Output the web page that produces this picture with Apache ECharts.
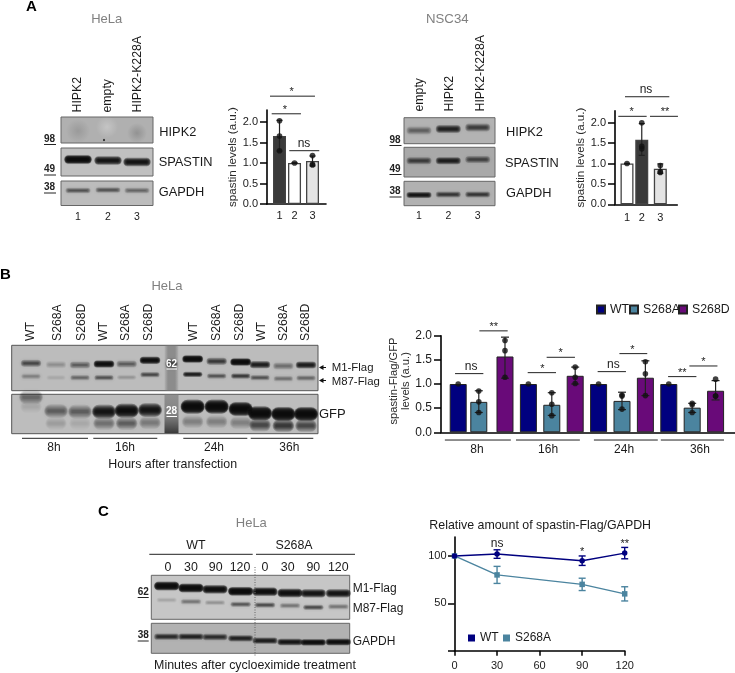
<!DOCTYPE html>
<html><head><meta charset="utf-8">
<style>html,body{margin:0;padding:0;background:#fff}#c{width:735px;height:673px}</style>
<script src="https://cdn.jsdelivr.net/npm/echarts@6/dist/echarts.min.js"></script>
</head><body><div id="c"></div>
<script>
// ---------- data ----------
const laneNumbers = ['1','2','3'];
const helaA_values = [1.66, 1.0, 1.05];
const helaA_low = [1.29, 1.0, 0.93];
const helaA_high = [2.04, 1.0, 1.17];
const helaA_dots = [[2.03,1.66,1.3],[1.0],[1.18,0.95,0.97]];
const nscA_values = [1.0, 1.58, 0.87];
const nscA_low = [1.0, 1.2, 0.76];
const nscA_high = [1.0, 1.98, 0.99];
const nscA_dots = [[1.0],[2.0,1.42,1.36],[0.95,0.8,0.78]];

const timepoints = ['8h','16h','24h','36h'];
const wt_values = [1,1,1,1];
const s268a_values = [0.63,0.57,0.65,0.51];
const s268d_values = [1.57,1.17,1.13,0.86];
const s268a_low = [0.41,0.35,0.47,0.41];
const s268a_high = [0.86,0.82,0.83,0.6];
const s268d_low = [1.12,1.0,0.76,0.67];
const s268d_high = [1.97,1.35,1.48,1.07];
const wt_dots = [[1],[1],[1],[1]];
const s268a_dots = [[0.855,0.63,0.41],[0.82,0.58,0.345],[0.77,0.75,0.48],[0.6,0.57,0.41]];
const s268d_dots = [[1.9,1.69,1.14],[1.35,1.14,1.01],[1.46,1.21,0.76],[1.1,0.75,0.75]];

const minutes = [0,30,90,120];
const wt_time = [100,102,95,103];
const wt_time_err = [0,4.5,5,6];
const s268a_time = [100,80,70,60];
const s268a_time_err = [0,9,6.5,7.5];

// blot band intensities (0..1)
const a1_spastin=[.98,.92,.92], a1_gapdh=[.55,.55,.45];
const a2_hipk=[.45,.8,.65], a2_spastin=[.65,.85,.6], a2_gapdh=[.9,.7,.7];
const b_m1=[.6,.22,.5,.95,.5,.95,1,.7,1,.85,.4,.85];
const b_m87=[.3,.1,.45,.55,.2,.6,.85,.55,.7,.55,.4,.45];
const b_gfp=[.45,.5,.5,.9,.95,.9,1,1,1,1,1,1];
const b_gfp2=[.1,.15,.1,.4,.5,.35,.3,.3,.3,.6,.7,.6];
const c_m1=[1,1,.95,1,.95,.95,.9,.9];
const c_m87=[.15,.4,.25,.55,.6,.4,.6,.4];
const c_gapdh=[.75,.8,.75,.8,.85,.9,.95,.95];

// ---------- layout ----------
const NAVY='#00007f', TEAL='#4b849f', PURPLE='#690a79', FF='"Liberation Sans",Arial,sans-serif';
const slotsA1=[1,1.91,3], slotsA2=[1,1.886,3];
const slotsB=[1,1.88,3,4,5,6,7,8,9,10,11,12];
const groupCentersB=[1.8,4.84,8.09,11.33];

const g=[];
function T(t,x,y,o={}){g.push({type:'text',x,y,rotation:o.rot||0,z:20,style:{text:t,fontSize:o.size||12,fontFamily:FF,fontWeight:o.weight||'normal',fill:o.color||'#1a1a1a',align:o.align||'left',verticalAlign:'middle'}});}
function L(x1,y1,x2,y2,c='#222',w=1,dash){g.push({type:'line',z:20,shape:{x1,y1,x2,y2},style:{stroke:c,lineWidth:w,lineDash:dash}});}
function R(x,y,w,h,fill,stroke){g.push({type:'rect',z:5,shape:{x,y,width:w,height:h},style:{fill,stroke:stroke||null,lineWidth:1}});}
const LAYERS=[[1.14,2.1],[1.1,1.75],[1.05,1.45],[1.0,1.15],[.95,.9],[.88,.65],[.8,.4]];
function band(x,y,w,h,a){const al=1-Math.pow(1-Math.min(a,.98),1/LAYERS.length);const c=`rgba(12,12,12,${al})`;
  LAYERS.forEach(l=>{const W=w*l[0],H=h*l[1];g.push({type:'rect',z:6,shape:{x:x-W/2,y:y-H/2,width:W,height:H,r:H/2},style:{fill:c,shadowBlur:1.5,shadowColor:c}});});}
function smear(x,y,rx,ry,a){g.push({type:'ellipse',z:6,shape:{cx:x,cy:y,rx,ry},style:{fill:{type:'radial',x:.5,y:.5,r:.5,colorStops:[{offset:0,color:`rgba(40,40,40,${a})`},{offset:1,color:'rgba(40,40,40,0)'}]}}});}
function lighten(x,y,rx,ry,a){g.push({type:'ellipse',z:6,shape:{cx:x,cy:y,rx,ry},style:{fill:{type:'radial',x:.5,y:.5,r:.5,colorStops:[{offset:0,color:`rgba(235,235,235,${a})`},{offset:1,color:'rgba(235,235,235,0)'}]}}});}
function row(xs,ys,vals,w,h){xs.forEach((x,i)=>band(x,ys[i],w,h,vals[i]));}
function MW(t,x,y,w,c='#222'){T(t,x,y,{size:10,weight:'bold',color:c});L(x,y+5.5,x+w,y+5.5,c,1);}
function up(t,x,bottom,size=12.3){T(t,x,bottom,{rot:Math.PI/2,size});}

// --- Panel A
T('A',26,6.5,{size:15,weight:'bold',color:'#000'});
T('HeLa',106.7,19,{size:13,color:'#808080',align:'center'});
T('NSC34',447.3,19,{size:13.2,color:'#808080',align:'center'});
[['HIPK2',78],['empty',108],['HIPK2-K228A',138]].forEach(a=>up(a[0],a[1],112.5));
[['empty',420],['HIPK2',449.3],['HIPK2-K228A',481]].forEach(a=>up(a[0],a[1],111.5));
// left blots
const a1x=[78,108,137];
R(61,117,92,26,'#b0b0b0','#666');R(61,148,92,28,'#c0c0c0','#666');R(61,181,92,24.5,'#bcbcbc','#666');
smear(78,131,18,12,.16);smear(137,133,18,10,.22);lighten(107,127,14,11,.35);
band(104,140,1.6,1.2,.9);
row(a1x,[159.5,160.5,162],a1_spastin,24,4);
row(a1x,[190.5,190,190.5],a1_gapdh,22,2.6);
T('HIPK2',159.3,132,{size:12.8});T('SPASTIN',158.7,162,{size:12.8});T('GAPDH',158.7,192.7,{size:12.8});
a1x.forEach((x,i)=>T(laneNumbers[i],x,217,{size:10.5,align:'center'}));
MW('98',44,139,12);MW('49',44,169.5,12);MW('38',44,187.5,12);
// right blots
const a2x=[419,448.3,477.7];
R(404,117.7,91,26,'#b3b3b3','#666');R(404,147.3,91,29.7,'#a9a9a9','#666');R(404,181.3,91,24.4,'#b1b1b1','#666');
row(a2x,[130.5,129,127.5],a2_hipk,22,3.8);
row(a2x,[160.7,160.7,159.5],a2_spastin,22,3.4);
row(a2x,[195,194.5,194.5],a2_gapdh,22,2.8);
T('HIPK2',506,132,{size:12.8});T('SPASTIN',505,163,{size:12.8});T('GAPDH',506,193,{size:12.8});
a2x.forEach((x,i)=>T(laneNumbers[i],x,216,{size:10.5,align:'center'}));
MW('98',389.5,140,12);MW('49',389.5,169,12);MW('38',389.5,191.5,12);

// --- Panel B
T('B',0,275,{size:15,weight:'bold',color:'#000'});
T('HeLa',167,286.7,{size:13,color:'#808080',align:'center'});
const bLabel=['WT','S268A','S268D','WT','S268A','S268D','WT','S268A','S268D','WT','S268A','S268D'];
[92,172,245,311,378,447,580,650,718,785,850,917].forEach((x,i)=>up(bLabel[i],x/3,341,12.2));
R(11.7,345.3,306.3,45.4,'#bcbcbc','#555');R(11.7,394.3,306.3,39.4,'#bdbdbd','#555');
// ladder strip
const stripFill=(top,bot)=>({type:'linear',x:0,y:0,x2:1,y2:0,colorStops:[{offset:0,color:'rgba(140,140,140,.2)'},{offset:.25,color:top},{offset:.75,color:bot},{offset:1,color:'rgba(140,140,140,.2)'}]});
g.push({type:'rect',z:5,shape:{x:164.5,y:345.8,width:14,height:44.4},style:{fill:stripFill('#8c8c8c','#8c8c8c')}});
g.push({type:'rect',z:5,shape:{x:164.5,y:394.8,width:14,height:38.4},style:{fill:{type:'linear',x:0,y:0,x2:0,y2:1,colorStops:[{offset:0,color:'#909090'},{offset:.55,color:'#808080'},{offset:.8,color:'#5a5a5a'},{offset:1,color:'#3a3a3a'}]}}});
band(171.5,364,11,5.5,.55);
const bx=[93,168,240,312,380,450,578,650,722,780,850,918].map(v=>v/3);
row(bx,[310,314,315,312,312,301,297,304,306,314,318,315].map(v=>v/3+260),b_m1,18,3.4);
row(bx,[349,353,353,353,352,344,343,348,348,353,356,354].map(v=>v/3+260),b_m87,17,2.5);
row(bx,[412,453,455,455,452,450,440,440,447,460,462,462].map(v=>v/3+260),b_gfp,21,6.5);
row(bx,[440,490,490,490,490,488,485,485,488,495,497,497].map(v=>v/3+260),b_gfp2,19,6);
T('62',171.5,364,{size:10,weight:'bold',color:'#fff',align:'center'});L(166.5,369,177,369,'#fff',1);
T('28',171.5,411.5,{size:10,weight:'bold',color:'#fff',align:'center'});L(166.5,416.5,177,416.5,'#fff',1);
T('M1-Flag',331.7,367.5,{size:11.4});T('M87-Flag',331.7,382,{size:11.4});T('GFP',319,414,{size:13});
[367.5,380.5].forEach(a=>{L(322,a,326,a,'#111',1);g.push({type:'polygon',z:20,shape:{points:[[319,a],[323.5,a-2.5],[323.5,a+2.5]]},style:{fill:'#111'}});});
[[22,88,54],[93.3,157.3,125],[183.3,247.3,214],[250.7,313.3,289.3]].forEach((a,i)=>{L(a[0],438.3,a[1],438.3,'#222',1);T(timepoints[i],a[2],447.5,{size:12,align:'center'});});
T('Hours after transfection',172.7,464.3,{size:12.4,align:'center'});

// --- Panel C
T('C',98,511.7,{size:15,weight:'bold',color:'#000'});
T('HeLa',251.3,523.3,{size:13,color:'#808080',align:'center'});
T('WT',196,546,{size:12.4,align:'center'});T('S268A',294,546,{size:12.4,align:'center'});
L(149.3,554.3,252.7,554.3,'#222',1);L(256,554.3,355,554.3,'#222',1);
const cx=[168,191,215.7,240,265,287.7,313.3,338.3];
[0,30,90,120,0,30,90,120].forEach((m,i)=>T(String(m),cx[i],567.7,{size:12.4,align:'center'}));
R(151.3,575.3,198.4,44,'#c6c6c6','#666');R(151.3,623.3,198.4,30,'#b2b2b2','#666');
const cbx=[230,303,375,452,525,600,670,745].map(v=>v/3+90);
row(cbx,[288,294,298,304,305,309,310,310].map(v=>v/3+490),c_m1,22,4);
row(cbx,[330,335,338,343,345,347,352,350].map(v=>v/3+490),c_m87,18,2.5);
row(cbx,[440,440,441,445,452,456,457,456].map(v=>v/3+490),c_gapdh,22,3);
L(255,567,255,657,'#666',1,[1,1.5]);
T('M1-Flag',352.7,588.7,{size:12});T('M87-Flag',352.7,609,{size:12});T('GAPDH',352.7,641.7,{size:12});
T('Minutes after cycloeximide treatment',255,666,{size:12.4,align:'center'});
MW('62',137.7,592,11);MW('38',137.7,635.5,11);
T('Relative amount of spastin-Flag/GAPDH',429.3,525.7,{size:12.4});

// ---------- chart helpers ----------
const axisLine={show:true,onZero:false,lineStyle:{color:'#000',width:1.6}};
function bracketSeries(gi,list){return {type:'custom',silent:true,xAxisIndex:gi,yAxisIndex:gi,z:8,clip:false,
  data:list.map(b=>[b[0],b[1],b[2]]),encode:{x:[0,1],y:2},
  renderItem(p,api){const b=list[p.dataIndex];const a=api.coord([b[0],b[2]]),c=api.coord([b[1],b[2]]);const ch=[];
    if(b[0]!==b[1])ch.push({type:'line',shape:{x1:a[0],y1:a[1],x2:c[0],y2:c[1]},style:{stroke:'#222',lineWidth:1}});
    if(b[3]){const q=api.coord([b[4],b[2]]);const star=b[3].includes('*');ch.push({type:'text',x:q[0],y:q[1]-(star?4:7),style:{text:b[3],fontSize:star?11:12,fontFamily:FF,fill:'#222',align:'center',verticalAlign:'middle'}});}
    return {type:'group',children:ch};}};}
function errSeries(gi,xs,lo,hi,color,cap,w){return {type:'custom',silent:true,xAxisIndex:gi,yAxisIndex:gi,z:6,clip:false,
  data:xs.map((x,i)=>[x,lo[i],hi[i]]),encode:{x:0,y:[1,2]},
  renderItem(p,api){const x=api.value(0);const a=api.coord([x,api.value(1)]),b=api.coord([x,api.value(2)]);const s={stroke:color,lineWidth:w||1.2};
    const l=(x1,y1,x2,y2)=>({type:'line',shape:{x1,y1,x2,y2},style:s});
    return {type:'group',children:[l(a[0],a[1],b[0],b[1]),l(a[0]-cap,a[1],a[0]+cap,a[1]),l(b[0]-cap,b[1],b[0]+cap,b[1])]};}};}
function dots(gi,xs,d){const data=[];d.forEach((v,i)=>v.forEach(y=>data.push([xs[i],y])));return {type:'scatter',silent:true,xAxisIndex:gi,yAxisIndex:gi,z:7,symbol:'circle',symbolSize:5.6,itemStyle:{color:'#111'},data};}
function xAx(gi,min,max,vals,fmt,margin,fs){return {type:'value',gridIndex:gi,min,max,splitLine:{show:false},axisLine,axisTick:{show:false},axisLabel:{customValues:vals,formatter:fmt,margin,fontSize:fs,fontFamily:FF,color:'#1a1a1a',hideOverlap:false,showMinLabel:true,showMaxLabel:true}};}
function yAx(gi,max,vals,fs,name,gap,nameFs,tickLen,pad){return {type:'value',gridIndex:gi,min:0,max,splitLine:{show:false},axisLine,
  axisTick:{show:true,length:tickLen,customValues:vals,lineStyle:{color:'#000',width:1.5}},
  axisLabel:{customValues:vals,formatter:v=>v.toFixed(1),margin:tickLen+2,fontSize:fs,fontFamily:FF,color:'#1a1a1a',showMinLabel:true,showMaxLabel:true},
  name,nameLocation:'middle',nameGap:gap,nameRotate:90,nameTextStyle:{fontSize:nameFs,fontFamily:FF,color:'#2a2a2a',lineHeight:12,padding:pad||0}};}
const barBase={type:'bar',barWidth:13,barGap:'-100%'};
function barItem(x,y,c){return {value:[x,y],itemStyle:{color:c,borderColor:'#444',borderWidth:1.3}};}

const aTicks=[0,.5,1,1.5,2];
const bTicks=[0,.5,1,1.5,2];
const A1sig=[[.424,3.15,2.63,'*',1.74],[.527,2.30,2.20,'*',1.33],[1.594,3.41,1.30,'ns',2.485]];
const A2sig=[[.88,3.54,2.637,'ns',2.14],[.477,2.18,2.157,'*',1.28],[2.38,4.06,2.157,'**',3.28]];
const Bsig=[[.865,2.075,1.215,'ns',1.55],[1.905,3.115,2.10,'**',2.52],[3.97,5.18,1.235,'*',4.6],[4.78,5.99,1.553,'*',5.38],
 [6.96,8.17,1.256,'ns',7.63],[7.89,9.08,1.629,'*',8.44],[9.97,11.18,1.153,'**',10.58],[10.88,12.08,1.373,'*',11.48]];
const Bgroups=[[.43,3.25,-.16],[3.47,6.2,-.16],[6.8,9.53,-.16],[9.66,12.36,-.16]];
const Csig=[[30,30,105.6,'ns',30],[90,90,99.7,'*',90],[120,120,108.6,'**',120]];

const bWT=slotsB.filter((_,i)=>i%3==0), bA=slotsB.filter((_,i)=>i%3==1), bD=slotsB.filter((_,i)=>i%3==2);
const A1fill=['#3a3a3a','#ffffff','#e4e4e4'], A2fill=['#ffffff','#3a3a3a','#e4e4e4'];

const option={animation:false,backgroundColor:'#fff',textStyle:{fontFamily:FF},
 graphic:{elements:g},
 grid:[
  {left:267,top:110.1,width:59,height:93.9},
  {left:615,top:110.9,width:62.3,height:93.4},
  {left:441,top:335.7,width:294,height:96.6},
  {left:454.5,top:537,width:170.2,height:113.7}
 ],
 legend:[
  {data:['WT'],left:596,top:303.5,padding:0,itemWidth:8,itemHeight:8,icon:'rect',textStyle:{fontSize:12.3,fontFamily:FF,color:'#1a1a1a'},selectedMode:false},
  {data:['S268A'],left:629,top:303.5,padding:0,itemWidth:8,itemHeight:8,icon:'rect',textStyle:{fontSize:12.3,fontFamily:FF,color:'#1a1a1a'},selectedMode:false},
  {data:['S268D'],left:678,top:303.5,padding:0,itemWidth:8,itemHeight:8,icon:'rect',textStyle:{fontSize:12.3,fontFamily:FF,color:'#1a1a1a'},selectedMode:false},
  {data:['WT ','S268A '],left:468,top:632,padding:0,itemGap:1,itemWidth:7,itemHeight:7,icon:'rect',textStyle:{fontSize:12,fontFamily:FF,color:'#1a1a1a'},selectedMode:false}
 ],
 xAxis:[
  xAx(0,.242,3.818,slotsA1,v=>laneNumbers[slotsA1.indexOf(v)],6,11),
  xAx(1,.279,4.02,slotsA2,v=>laneNumbers[slotsA2.indexOf(v)],8,11),
  xAx(2,.265,12.83,groupCentersB,v=>timepoints[groupCentersB.indexOf(v)],11,12),
  {type:'value',gridIndex:3,min:0,max:120,interval:30,splitLine:{show:false},axisLine,axisTick:{show:true,length:5,lineStyle:{color:'#000',width:1.5}},axisLabel:{margin:10,fontSize:11,fontFamily:FF,color:'#1a1a1a'}}
 ],
 yAxis:[
  yAx(0,2.29,aTicks,11,'spastin levels (a.u.)',28,11.6,7),
  yAx(1,2.29,aTicks,11,'spastin levels (a.u.)',28.5,11.6,7),
  yAx(2,2,bTicks,12,'spastin-Flag/GFP\nlevels (a.u.)',27,11.2,7,[0,0,0,6]),
  {type:'value',gridIndex:3,min:0,max:120,splitLine:{show:false},axisLine,axisTick:{show:true,length:6.5,customValues:[0,50,100],lineStyle:{color:'#000',width:1.5}},axisLabel:{customValues:[50,100],margin:8,fontSize:11,fontFamily:FF,color:'#1a1a1a'}}
 ],
 series:[
  {...barBase,xAxisIndex:0,yAxisIndex:0,name:'HeLa A',data:helaA_values.map((v,i)=>barItem(slotsA1[i],v,A1fill[i]))},
  errSeries(0,slotsA1,helaA_low,helaA_high,'#222',3),dots(0,slotsA1,helaA_dots),bracketSeries(0,A1sig),
  {...barBase,xAxisIndex:1,yAxisIndex:1,name:'NSC34 A',data:nscA_values.map((v,i)=>barItem(slotsA2[i],v,A2fill[i]))},
  errSeries(1,slotsA2,nscA_low,nscA_high,'#222',3),dots(1,slotsA2,nscA_dots),bracketSeries(1,A2sig),
  {...barBase,barWidth:17,xAxisIndex:2,yAxisIndex:2,name:'WT',itemStyle:{color:NAVY,borderColor:'#222',borderWidth:1},data:wt_values.map((v,i)=>[bWT[i],v])},
  {...barBase,barWidth:17,xAxisIndex:2,yAxisIndex:2,name:'S268A',itemStyle:{color:TEAL,borderColor:'#222',borderWidth:1},data:s268a_values.map((v,i)=>[bA[i],v])},
  {...barBase,barWidth:17,xAxisIndex:2,yAxisIndex:2,name:'S268D',itemStyle:{color:PURPLE,borderColor:'#222',borderWidth:1},data:s268d_values.map((v,i)=>[bD[i],v])},
  errSeries(2,bA,s268a_low,s268a_high,'#222',4),errSeries(2,bD,s268d_low,s268d_high,'#222',4),
  dots(2,bWT,wt_dots),dots(2,bA,s268a_dots),dots(2,bD,s268d_dots),
  bracketSeries(2,Bsig),bracketSeries(2,Bgroups),
  {type:'line',xAxisIndex:3,yAxisIndex:3,name:'S268A ',data:minutes.map((m,i)=>[m,s268a_time[i]]),symbol:'rect',symbolSize:5.5,itemStyle:{color:TEAL},lineStyle:{color:TEAL,width:1.4},clip:false},
  {type:'line',xAxisIndex:3,yAxisIndex:3,name:'WT ',data:minutes.map((m,i)=>[m,wt_time[i]]),symbol:'circle',symbolSize:5.5,itemStyle:{color:NAVY},lineStyle:{color:NAVY,width:1.4},clip:false},
  errSeries(3,minutes.slice(1),s268a_time.slice(1).map((v,i)=>v-s268a_time_err[i+1]),s268a_time.slice(1).map((v,i)=>v+s268a_time_err[i+1]),TEAL,3.5,1.4),
  errSeries(3,minutes.slice(1),wt_time.slice(1).map((v,i)=>v-wt_time_err[i+1]),wt_time.slice(1).map((v,i)=>v+wt_time_err[i+1]),NAVY,3.5,1.4),
  bracketSeries(3,Csig)
 ]};
echarts.init(document.getElementById('c'),null,{renderer:'canvas'}).setOption(option);
</script></body></html>
